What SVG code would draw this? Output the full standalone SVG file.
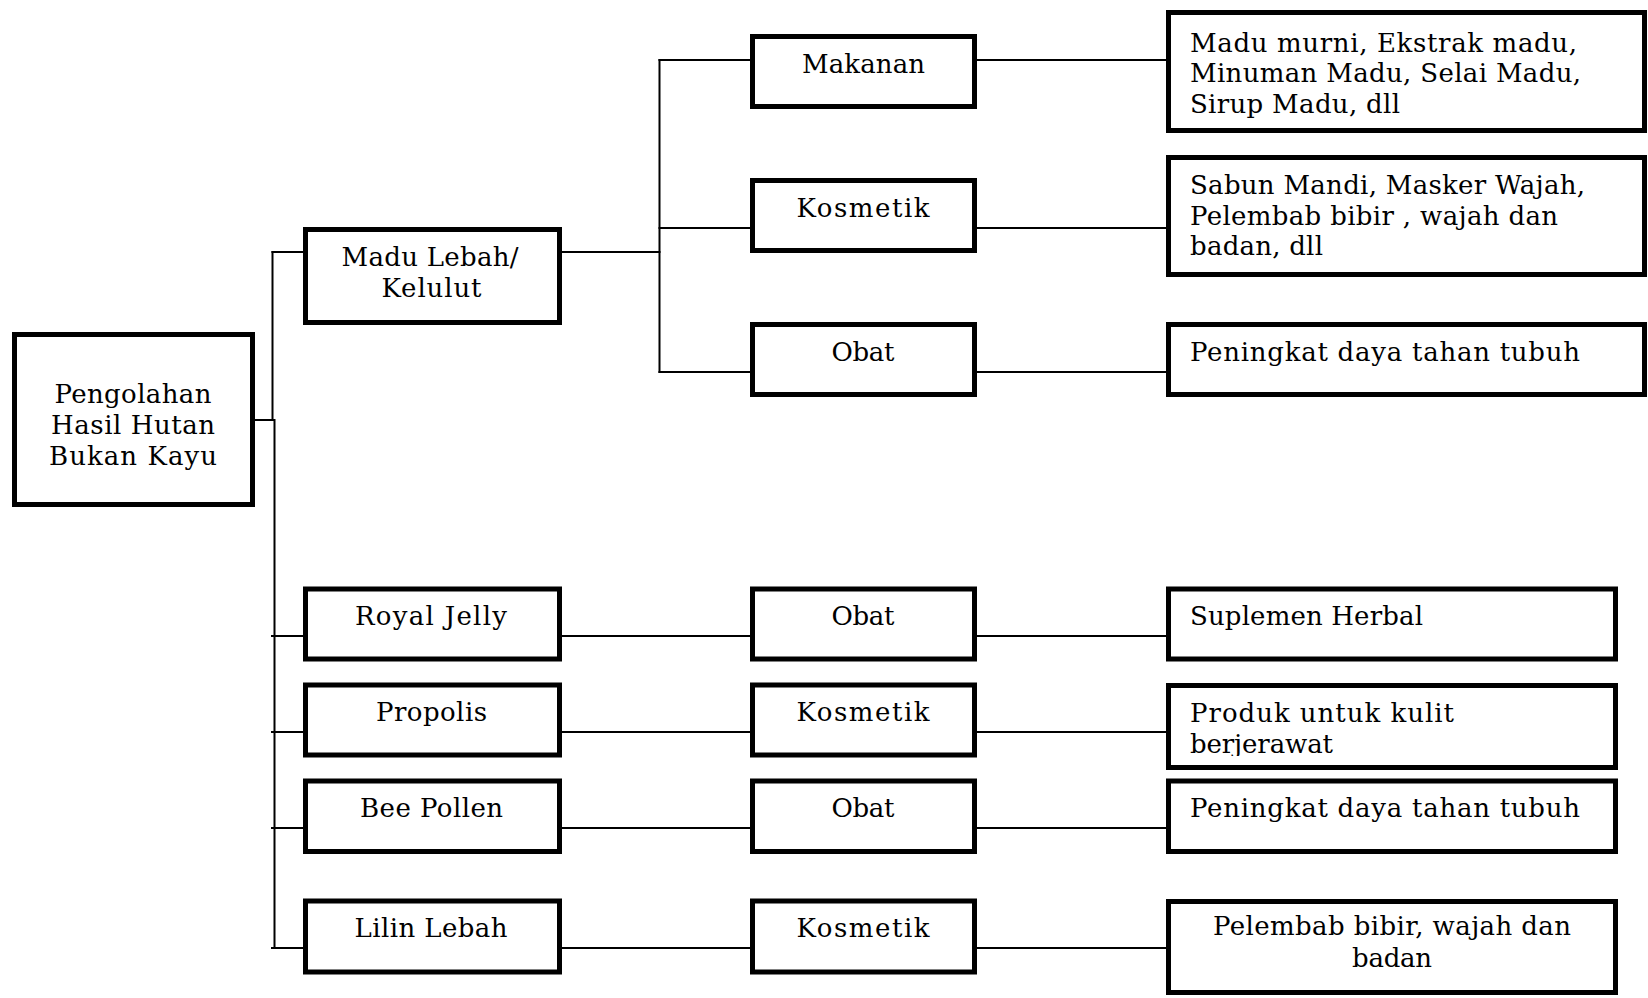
<svg xmlns="http://www.w3.org/2000/svg" width="1648" height="998" viewBox="0 0 1648 998">
<style>
.box{fill:#fff;stroke:#000;stroke-width:5}
.ln{stroke:#000;stroke-width:2;fill:none}
text{font-family:"DejaVu Serif","Liberation Serif",serif;font-size:26px;fill:#000}
.c{text-anchor:middle}
</style>
<defs>
<clipPath id="clipProduk"><rect x="1170" y="686" width="440" height="70"/></clipPath>
</defs>
<rect width="1648" height="998" fill="#fff"/>
<g id="connectors">
<line class="ln" x1="255" y1="420" x2="274.5" y2="420"/>
<line class="ln" x1="272.5" y1="251" x2="272.5" y2="421"/>
<line class="ln" x1="274.5" y1="419" x2="274.5" y2="949"/>
<line class="ln" x1="271.5" y1="252" x2="303" y2="252"/>
<line class="ln" x1="562" y1="252" x2="660.5" y2="252"/>
<line class="ln" x1="659.5" y1="59" x2="659.5" y2="373"/>
<line class="ln" x1="658.5" y1="60" x2="750" y2="60"/>
<line class="ln" x1="658.5" y1="228" x2="750" y2="228"/>
<line class="ln" x1="658.5" y1="372" x2="750" y2="372"/>
<line class="ln" x1="977" y1="60" x2="1166" y2="60"/>
<line class="ln" x1="977" y1="228" x2="1166" y2="228"/>
<line class="ln" x1="977" y1="372" x2="1166" y2="372"/>
<line class="ln" x1="271" y1="636" x2="303" y2="636"/>
<line class="ln" x1="562" y1="636" x2="750" y2="636"/>
<line class="ln" x1="977" y1="636" x2="1166" y2="636"/>
<line class="ln" x1="271" y1="732" x2="303" y2="732"/>
<line class="ln" x1="562" y1="732" x2="750" y2="732"/>
<line class="ln" x1="977" y1="732" x2="1166" y2="732"/>
<line class="ln" x1="271" y1="828" x2="303" y2="828"/>
<line class="ln" x1="562" y1="828" x2="750" y2="828"/>
<line class="ln" x1="977" y1="828" x2="1166" y2="828"/>
<line class="ln" x1="271" y1="948" x2="303" y2="948"/>
<line class="ln" x1="562" y1="948" x2="750" y2="948"/>
<line class="ln" x1="977" y1="948" x2="1166" y2="948"/>
</g>
<g id="root">
<rect class="box" x="14.5" y="334.5" width="238" height="170"/>
<text class="c" x="133" y="403" textLength="157" lengthAdjust="spacing">Pengolahan</text>
<text class="c" x="133" y="434" textLength="164" lengthAdjust="spacing">Hasil Hutan</text>
<text class="c" x="133" y="465" textLength="168" lengthAdjust="spacing">Bukan Kayu</text>
</g>
<g id="madu-lebah">
<rect class="box" x="305.5" y="229.5" width="254" height="93"/>
<text class="c" x="430" y="266" textLength="177" lengthAdjust="spacing">Madu Lebah/</text>
<text class="c" x="431.5" y="297" textLength="100" lengthAdjust="spacing">Kelulut</text>
</g>
<g id="makanan">
<rect class="box" x="752.5" y="36.5" width="222" height="70"/>
<text class="c" x="863.5" y="73" textLength="123" lengthAdjust="spacing">Makanan</text>
</g>
<g id="kosmetik-madu">
<rect class="box" x="752.5" y="180.5" width="222" height="70"/>
<text class="c" x="863" y="217" textLength="133" lengthAdjust="spacing">Kosmetik</text>
</g>
<g id="obat-madu">
<rect class="box" x="752.5" y="324.5" width="222" height="70"/>
<text class="c" x="863" y="361" textLength="63" lengthAdjust="spacing">Obat</text>
</g>
<g id="produk-makanan">
<rect class="box" x="1168.5" y="12.5" width="476" height="118"/>
<text x="1190" y="51.5" textLength="387" lengthAdjust="spacing">Madu murni, Ekstrak madu,</text>
<text x="1190" y="82" textLength="391" lengthAdjust="spacing">Minuman Madu, Selai Madu,</text>
<text x="1190" y="112.5" textLength="210" lengthAdjust="spacing">Sirup Madu, dll</text>
</g>
<g id="produk-kosmetik">
<rect class="box" x="1168.5" y="157.5" width="476" height="117"/>
<text x="1190" y="194" textLength="395" lengthAdjust="spacing">Sabun Mandi, Masker Wajah,</text>
<text x="1190" y="224.5" textLength="368" lengthAdjust="spacing">Pelembab bibir , wajah dan</text>
<text x="1190" y="255" textLength="133" lengthAdjust="spacing">badan, dll</text>
</g>
<g id="produk-obat">
<rect class="box" x="1168.5" y="324.5" width="476" height="70"/>
<text x="1190" y="361" textLength="390" lengthAdjust="spacing">Peningkat daya tahan tubuh</text>
</g>
<g id="royal-jelly">
<rect class="box" x="305.5" y="589" width="254" height="70"/>
<text class="c" x="431" y="625" textLength="152" lengthAdjust="spacing">Royal Jelly</text>
</g>
<g id="obat-rj">
<rect class="box" x="752.5" y="589" width="222" height="70"/>
<text class="c" x="863" y="625" textLength="63" lengthAdjust="spacing">Obat</text>
</g>
<g id="suplemen">
<rect class="box" x="1168.5" y="589" width="447" height="70"/>
<text x="1190" y="625" textLength="233" lengthAdjust="spacing">Suplemen Herbal</text>
</g>
<g id="propolis">
<rect class="box" x="305.5" y="685" width="254" height="70"/>
<text class="c" x="431.5" y="721" textLength="111" lengthAdjust="spacing">Propolis</text>
</g>
<g id="kosmetik-propolis">
<rect class="box" x="752.5" y="685" width="222" height="70"/>
<text class="c" x="863" y="721" textLength="133" lengthAdjust="spacing">Kosmetik</text>
</g>
<g id="produk-kulit">
<rect class="box" x="1168.5" y="685.5" width="447" height="82"/>
<text x="1190" y="721.5" textLength="264" lengthAdjust="spacing">Produk untuk kulit</text>
<text x="1190" y="753" textLength="143" lengthAdjust="spacing" clip-path="url(#clipProduk)">berjerawat</text>
</g>
<g id="bee-pollen">
<rect class="box" x="305.5" y="781" width="254" height="70.5"/>
<text class="c" x="431.5" y="817" textLength="143" lengthAdjust="spacing">Bee Pollen</text>
</g>
<g id="obat-bp">
<rect class="box" x="752.5" y="781" width="222" height="70.5"/>
<text class="c" x="863" y="817" textLength="63" lengthAdjust="spacing">Obat</text>
</g>
<g id="peningkat-bp">
<rect class="box" x="1168.5" y="781" width="447" height="70.5"/>
<text x="1190" y="817" textLength="390" lengthAdjust="spacing">Peningkat daya tahan tubuh</text>
</g>
<g id="lilin-lebah">
<rect class="box" x="305.5" y="901" width="254" height="71"/>
<text class="c" x="431" y="937" textLength="153" lengthAdjust="spacing">Lilin Lebah</text>
</g>
<g id="kosmetik-lilin">
<rect class="box" x="752.5" y="901" width="222" height="71"/>
<text class="c" x="863" y="937" textLength="133" lengthAdjust="spacing">Kosmetik</text>
</g>
<g id="pelembab">
<rect class="box" x="1168.5" y="901.5" width="447" height="91"/>
<text class="c" x="1392" y="935" textLength="358" lengthAdjust="spacing">Pelembab bibir, wajah dan</text>
<text class="c" x="1392" y="967" textLength="80" lengthAdjust="spacing">badan</text>
</g>
</svg>
